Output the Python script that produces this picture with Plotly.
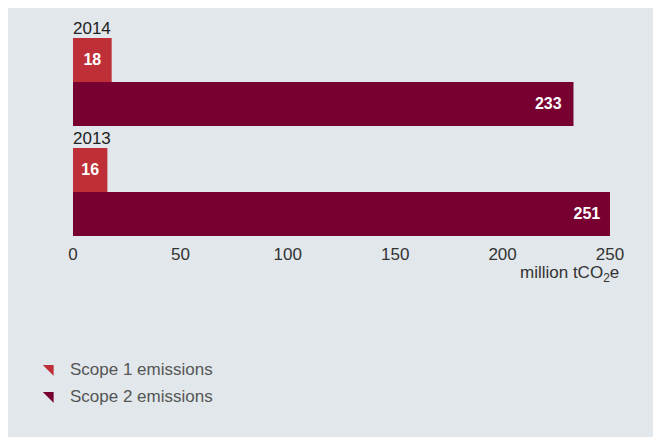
import plotly.graph_objects as go

years = ["2013", "2014"]
scope1 = [16, 18]
scope2 = [251, 233]
tick_vals = [0, 50, 100, 150, 200, 250]
series_names = ["Scope 1 emissions", "Scope 2 emissions"]

c1 = "#be2f38"
c2 = "#770031"
bg = "#e1e7ea"
FONT = "Liberation Sans"

# page body has an 8px margin; figure fills the rest of the window
W, H = 653, 429
ml, mr, mt, mb = 65, 51, 19, 195
pw = W - ml - mr
ph = H - mt - mb

def px_x(p):
    return (p - ml) / pw

def px_y(p):
    return (H - mb - p) / ph

fig = go.Figure()
# Scope 2 first so it sits lower in each group
fig.add_trace(go.Bar(
    y=years, x=scope2, orientation="h", marker_color=c2, name=series_names[1],
    texttemplate="%{x}\u00a0\u00a0", textposition="inside", insidetextanchor="end",
    textfont=dict(color="white", size=16, family=FONT, weight="bold"),
    showlegend=False, marker_line_width=0,
))
fig.add_trace(go.Bar(
    y=years, x=scope1, orientation="h", marker_color=c1, name=series_names[0],
    texttemplate="%{x}", textposition="inside", insidetextanchor="middle",
    textfont=dict(color="white", size=16, family=FONT, weight="bold"),
    showlegend=False, marker_line_width=0,
))
# legend entries with triangle markers
for name, col in zip(series_names, [c1, c2]):
    fig.add_trace(go.Scatter(
        x=[None], y=[None], mode="markers", name=name, legendgroup=name,
        marker=dict(symbol="triangle-ne", color=col, size=12),
    ))

for i, yr in enumerate(years):
    fig.add_annotation(
        x=0, y=i, xref="x", yref="y", text=yr, showarrow=False,
        xanchor="left", yanchor="bottom", yshift=42, xshift=-2,
        font=dict(size=17, color="#222222", family=FONT),
    )

fig.add_annotation(
    x=px_x(613), y=px_y(266), xref="paper", yref="paper",
    text="million tCO<sub>2</sub>e", showarrow=False,
    xanchor="right", yanchor="middle",
    font=dict(size=17, color="#333333", family=FONT),
)

fig.update_layout(
    width=W, height=H,
    margin=dict(l=ml, r=mr, t=mt, b=mb, autoexpand=False),
    paper_bgcolor=bg, plot_bgcolor=bg,
    barmode="group", bargap=0.2, bargroupgap=0,
    font=dict(family=FONT, size=16, color="#333333"),
    xaxis=dict(range=[0, 250], tickvals=tick_vals, showgrid=False, zeroline=False,
               showline=False, ticks="", tickfont=dict(size=17, color="#333333")),
    yaxis=dict(type="category", showticklabels=False, showgrid=False, zeroline=False,
               showline=False, categoryorder="array", categoryarray=years,
               range=[-0.455, 1.5]),
    legend=dict(xref="container", yref="container", x=22 / W, y=1 - 343 / H,
                xanchor="left", yanchor="top", traceorder="grouped",
                tracegroupgap=2, bgcolor="rgba(0,0,0,0)",
                font=dict(size=17, color="#555555", family=FONT)),
    showlegend=True,
)

fig.write_html("out.html")
